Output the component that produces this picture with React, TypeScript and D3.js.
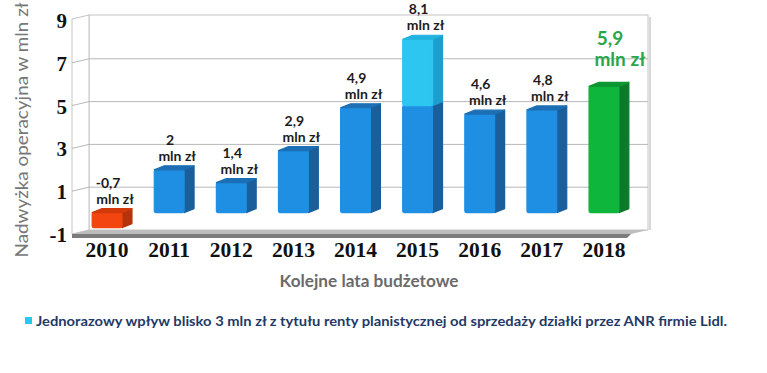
import React from "react";
import * as d3 from "d3";

// data
const years = ["2010", "2011", "2012", "2013", "2014", "2015", "2016", "2017", "2018"];
const surplus = [-0.7, 2, 1.4, 2.9, 4.9, 8.1, 4.6, 4.8, 5.9];
const oneOff = [0, 0, 0, 0, 0, 3.1, 0, 0, 0]; // one-time part, included in surplus
const valueLabels = ["-0,7", "2", "1,4", "2,9", "4,9", "8,1", "4,6", "4,8", "5,9"];
const yTicks = [9, 7, 5, 3, 1, -1];

const W = 767;
const H = 373;

const palettes = {
  blue: { front: "#1f8fe3", side: "#1a5f9c", top: "#1c6fb4" },
  cyan: { front: "#2cc6f1", side: "#1c9fcc", top: "#22b3e0" },
  red: { front: "#f2450f", side: "#b5320b", top: "#d23a0c" },
  green: { front: "#0fb63c", side: "#0b7a2a", top: "#0d9632" },
};

export default function App() {
  const x = d3.scaleBand().domain(years).range([76, 635]).paddingInner(0.52).paddingOuter(0.26);
  const y = d3.scaleLinear().domain([-1, 9]).range([230, 16]);

  // depth offsets
  const FRONT = 4; // bar front sits a bit lower than the back wall
  const DX = 10, DY = -4; // bar depth
  const SX = -17, SY = 4; // side wall depth

  const wallL = 89, wallR = 648;
  const wallTop = y(9) - 1;
  const floorY = y(-1);
  const bw = x.bandwidth();
  const yf = (v) => y(v) + FRONT;
  const last = years.length - 1;

  const pt = (p) => p.map((d) => d.join(",")).join(" ");

  const bars = years.map((yr, i) => {
    const v = surplus[i];
    const base = v - oneOff[i];
    const pal = v < 0 ? palettes.red : i === last ? palettes.green : palettes.blue;
    const segs = [{ from: Math.min(0, v), to: Math.max(0, base), pal }];
    if (oneOff[i] > 0) segs.push({ from: base, to: v, pal: palettes.cyan });
    const x0 = x(yr);
    const x1 = x0 + bw;
    const topPal = segs[segs.length - 1].pal;
    const yt = yf(Math.max(0, v));
    return (
      <g key={yr}>
        {segs.map((s, j) => {
          const a = yf(s.to), b = yf(s.from);
          return (
            <g key={j} strokeLinejoin="round" strokeWidth={1.2}>
              <polygon
                points={pt([[x1, a], [x1 + DX, a + DY], [x1 + DX, b + DY], [x1, b]])}
                fill={s.pal.side}
                stroke={s.pal.side}
              />
              <rect x={x0} y={a} width={bw} height={b - a} fill={s.pal.front} stroke={s.pal.front} rx={1.5} />
            </g>
          );
        })}
        <polygon
          points={pt([[x0, yt], [x0 + DX, yt + DY], [x1 + DX, yt + DY], [x1, yt]])}
          fill={topPal.top}
          stroke={topPal.top}
          strokeWidth={1.2}
          strokeLinejoin="round"
        />
      </g>
    );
  });

  const labels = years.map((yr, i) => {
    const v = surplus[i];
    const cx = x(yr) + bw / 2;
    const yt = yf(Math.max(0, v));
    const hi = i === last;
    if (hi) {
      return (
        <g key={yr} fill="#2aa64a" fontFamily="Lato, 'Open Sans', sans-serif" fontWeight="700" textAnchor="middle">
          <text x={cx + 6} y={yt - 41} fontSize={19}>{valueLabels[i]}</text>
          <text x={cx + 16} y={yt - 20} fontSize={19}>mln zł</text>
        </g>
      );
    }
    return (
      <g key={yr} fill="#1c1c1c" fontFamily="Lato, 'Open Sans', sans-serif" fontWeight="700" fontSize={14} textAnchor="middle">
        <text x={cx + 1} y={yt - 25}>{valueLabels[i]}</text>
        <text x={cx + 8} y={yt - 9}>mln zł</text>
      </g>
    );
  });

  return (
    <div style={{ position: "absolute", left: 0, top: 0, background: "#fff" }}>
      <svg width={W} height={H} viewBox={`0 0 ${W} ${H}`} style={{ display: "block" }}>
        <rect width={W} height={H} fill="#fff" />

        {/* back wall */}
        <rect x={wallL} y={wallTop} width={wallR - wallL} height={floorY - wallTop} fill="#fff" stroke="#c4c4c4" />
        <line x1={wallR + 2} x2={wallR + 2} y1={wallTop + 2} y2={floorY} stroke="#d8d8d8" strokeWidth={2} />
        {/* side wall */}
        <polygon
          points={pt([[wallL + SX, wallTop + SY], [wallL, wallTop], [wallL, floorY], [wallL + SX, floorY + SY]])}
          fill="#fff"
          stroke="#c4c4c4"
        />
        {yTicks.filter((t) => t > -1 && t < 9).map((t) => (
          <g key={t} stroke="#b8b8b8" strokeWidth={1}>
            <line x1={wallL} x2={wallR} y1={y(t)} y2={y(t)} />
            <line x1={wallL + SX} x2={wallL} y1={y(t) + SY} y2={y(t)} />
          </g>
        ))}
        {/* floor */}
        <polygon
          points={pt([[wallL, floorY], [wallR, floorY], [wallR + SX, floorY + SY], [wallL + SX, floorY + SY]])}
          fill="#bdbdbd"
        />
        <polygon
          points={pt([[wallL + SX, floorY + SY], [wallR + SX, floorY + SY], [wallR + SX - 4, floorY + SY + 4], [wallL + SX, floorY + SY + 4]])}
          fill="#7c7c7c"
        />

        {bars}
        {labels}

        {/* y tick labels */}
        {yTicks.map((t) => (
          <text
            key={t}
            x={67}
            y={y(t) + SY + 1}
            dominantBaseline="central"
            textAnchor="end"
            fontFamily="'Liberation Serif', 'Times New Roman', serif"
            fontWeight="700"
            fontSize={21}
            fill="#111"
          >
            {t}
          </text>
        ))}

        {/* year labels */}
        {years.map((yr) => (
          <text
            key={yr}
            x={x(yr) + bw / 2}
            y={257}
            textAnchor="middle"
            fontFamily="'Liberation Serif', 'Times New Roman', serif"
            fontWeight="700"
            fontSize={21.5}
            fill="#111"
          >
            {yr}
          </text>
        ))}

        {/* axis titles */}
        <text
          x={369}
          y={287}
          textAnchor="middle"
          fontFamily="Lato, 'Open Sans', sans-serif"
          fontWeight="700"
          fontSize={17}
          fill="#6b6b6b"
          textLength={179}
          lengthAdjust="spacingAndGlyphs"
        >
          Kolejne lata budżetowe
        </text>
        <text
          transform="translate(28,130) rotate(-90)"
          textAnchor="middle"
          fontFamily="Lato, 'Open Sans', sans-serif"
          fontSize={18}
          fill="#777"
          textLength={255}
          lengthAdjust="spacingAndGlyphs"
        >
          Nadwyżka operacyjna w mln zł
        </text>

        {/* legend note */}
        <rect x={25} y={317} width={7} height={7} fill={palettes.cyan.front} />
        <text
          x={36}
          y={325.5}
          fontFamily="Lato, 'Open Sans', sans-serif"
          fontWeight="700"
          fontSize={14}
          fill="#1f3a66"
          textLength={691}
          lengthAdjust="spacingAndGlyphs"
        >
          Jednorazowy wpływ blisko 3 mln zł z tytułu renty planistycznej od sprzedaży działki przez ANR firmie Lidl.
        </text>
      </svg>
    </div>
  );
}
